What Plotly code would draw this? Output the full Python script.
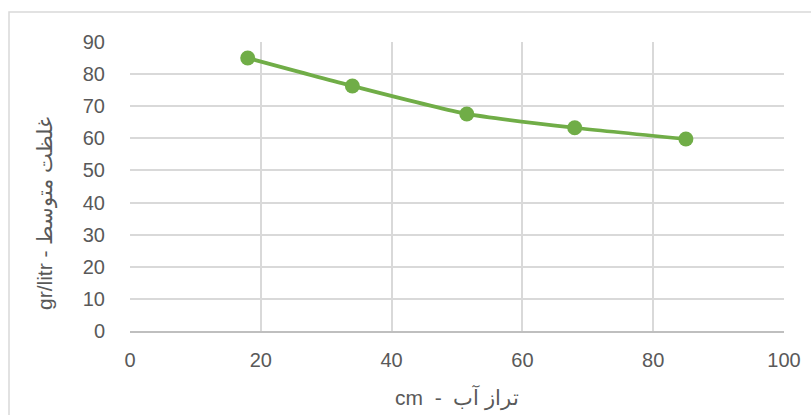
import plotly.graph_objects as go

# Water level (cm) vs. mean concentration (gr/litr)
water_level = [18, 34, 51.5, 68, 85]
concentration = [85.0, 76.3, 67.6, 63.3, 59.8]

x_ticks = [0, 20, 40, 60, 80, 100]
y_ticks = [0, 10, 20, 30, 40, 50, 60, 70, 80, 90]

x_title = "cm  -  تراز آب"
y_title = "gr/litr - غلظت متوسط"

W, H = 811, 415
L, R, T, B = 130, 27, 42, 84
pw, ph = W - L - R, H - T - B

FONT = "Liberation Sans"
TXT = "#595959"
GRID = "#d9d9d9"
CLEAR = "rgba(0,0,0,0)"

fig = go.Figure()
fig.add_trace(go.Scatter(
    x=water_level, y=concentration,
    mode="lines+markers",
    line=dict(color="#70ad47", width=3.75, shape="spline", smoothing=0.6),
    marker=dict(color="#70ad47", size=15),
    showlegend=False,
    cliponaxis=False,
))

fig.update_layout(
    width=W, height=H,
    margin=dict(l=L, r=R, t=T, b=B, autoexpand=False),
    paper_bgcolor="white", plot_bgcolor="white",
    font=dict(family=FONT, color=TXT, size=20),
    xaxis=dict(
        range=[0, 100], tickvals=x_ticks, ticktext=[str(v) for v in x_ticks],
        showgrid=True, gridcolor=GRID, gridwidth=1.5,
        zeroline=False, showline=True, linecolor="#bfbfbf", linewidth=1.5,
        ticks="outside", ticklen=10, tickcolor=CLEAR, fixedrange=True,
    ),
    yaxis=dict(
        range=[0, 90], tickvals=y_ticks, ticktext=[str(v) for v in y_ticks],
        showgrid=True, gridcolor=GRID, gridwidth=1.5,
        zeroline=False, showline=False,
        ticks="outside", ticklen=20, tickcolor=CLEAR, fixedrange=True,
    ),
    shapes=[
        # chart frame
        dict(type="rect", xref="paper", yref="paper",
             x0=(9 - L) / pw, x1=(W + 10 - L) / pw,
             y0=-(B + 10) / ph, y1=1 + (T - 12) / ph,
             line=dict(color=GRID, width=1.5), layer="below"),
    ],
    annotations=[
        dict(text=x_title, xref="paper", yref="paper",
             x=0.5, y=(331 - 397) / ph, xanchor="center", yanchor="middle",
             showarrow=False, font=dict(family=FONT, size=21, color=TXT)),
        dict(text=y_title, xref="paper", yref="paper",
             x=(45 - L) / pw, y=(331 - 214) / ph, xanchor="center", yanchor="middle",
             textangle=-90, showarrow=False, font=dict(family=FONT, size=21, color=TXT)),
    ],
)

fig.write_html("out.html")
